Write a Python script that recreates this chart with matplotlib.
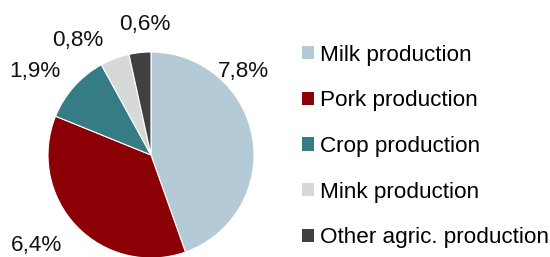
import matplotlib.pyplot as plt
from matplotlib.patches import Patch

plt.rcParams['font.family'] = ['Liberation Sans', 'DejaVu Sans']

categories = ["Milk production", "Pork production", "Crop production",
              "Mink production", "Other agric. production"]
values = [7.8, 6.4, 1.9, 0.8, 0.6]
value_labels = ["7,8%", "6,4%", "1,9%", "0,8%", "0,6%"]
colors = ["#b4cad6", "#8b0005", "#357c84", "#d7d8da", "#404042"]

# where the value labels sit, in pie-radius units
label_pos = [(0.90, 0.81), (-1.11, -0.88), (-1.13, 0.81), (-0.71, 1.11), (-0.06, 1.27)]

fig = plt.figure(figsize=(5.5, 2.57), dpi=100)
W, H = 550, 257
cx, cy, r = 151, 257 - 155, 103
ax = fig.add_axes([(cx - r) / W, (cy - r) / H, 2 * r / W, 2 * r / H])

wedges, _ = ax.pie(values, colors=colors, startangle=90, counterclock=False,
                   wedgeprops=dict(edgecolor="white", linewidth=0.8))
ax.set_xlim(-1, 1)
ax.set_ylim(-1, 1)
ax.set_aspect("equal")

for txt, (x, y) in zip(value_labels, label_pos):
    ax.text(x, y, txt, ha="center", va="center", fontsize=16.2, color="#111111")

handles = [Patch(facecolor=c, edgecolor="none") for c in colors]
fig.legend(handles, categories, loc="center left", bbox_to_anchor=(302 / W, 1 - 146.5 / H),
           frameon=False, fontsize=16.2, handlelength=0.54, handleheight=0.54,
           handletextpad=0.25, labelspacing=1.1, borderpad=0, borderaxespad=0)

fig.savefig("out.png", dpi=100)
